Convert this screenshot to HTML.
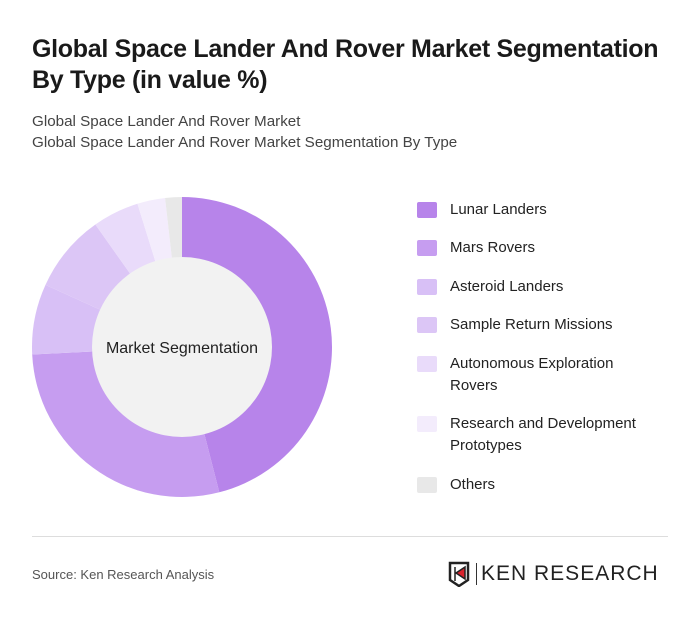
<!DOCTYPE html>
<html><head><meta charset="utf-8"><style>
body{margin:0;width:700px;height:621px;background:#fff;font-family:"Liberation Sans",sans-serif;position:relative;overflow:hidden}
.t{position:absolute;left:32px;top:34px;font-size:25px;font-weight:bold;color:#1a1a1a;line-height:31px;letter-spacing:-0.3px}
.s{position:absolute;left:32px;font-size:15.2px;color:#444}
.leg{position:absolute;left:418px;font-size:15px;color:#222;line-height:22px}
.sw{position:absolute;left:-1px;width:20px;height:16px;border-radius:2px}
.lt{position:absolute;left:32px;white-space:nowrap}
</style></head><body>
<div class="t">Global Space Lander And Rover Market Segmentation<br>By Type (in value %)</div>
<div class="s" style="top:113px">Global Space Lander And Rover Market</div>
<div class="s" style="top:134px">Global Space Lander And Rover Market Segmentation By Type</div>
<svg id="chart" width="700" height="621" style="position:absolute;left:0;top:0"></svg>
<div id="legend"></div>
<div style="position:absolute;left:32px;top:536px;width:636px;height:1px;background:#ddd"></div>
<div style="position:absolute;left:32px;top:567px;font-size:13px;color:#555">Source: Ken Research Analysis</div>
<div style="position:absolute;left:448px;top:561px;width:222px;height:26px">
<svg width="24" height="26" style="position:absolute;left:0;top:0"><path d="M2 2h18v17l-9 6-9-6z" fill="none" stroke="#222" stroke-width="2.5"/><path d="M7 6v14M8 12l9-6v12z" fill="#d9232d" stroke="#222" stroke-width="1.5"/></svg>
<div style="position:absolute;left:28px;top:2px;width:1px;height:22px;background:#333"></div>
<div style="position:absolute;left:33px;top:0;font-size:21px;color:#222;letter-spacing:1px;line-height:26px">KEN RESEARCH</div>
</div>
<script>
const categories=["Lunar Landers","Mars Rovers","Asteroid Landers","Sample Return Missions","Autonomous Exploration Rovers","Research and Development Prototypes","Others"];
const values=[46,28.2,7.6,8.4,5,3,1.8];
const colors=["#b784ea","#c69df0","#d8c0f6","#dcc6f6","#e9dbfa","#f3ecfc","#e8e8e8"];
const legendLines=[["Lunar Landers"],["Mars Rovers"],["Asteroid Landers"],["Sample Return Missions"],["Autonomous Exploration","Rovers"],["Research and Development","Prototypes"],["Others"]];
const legendTops=[199,237,276,314,353,413,474];
const svg=document.getElementById('chart');const NS="http://www.w3.org/2000/svg";
const cx=182,cy=347,R=150,r=90;
const total=values.reduce((a,b)=>a+b,0);
let acc=0;
function pt(a,rad){return [cx+rad*Math.sin(a),cy-rad*Math.cos(a)];}
values.forEach((v,i)=>{
const a0=acc/total*2*Math.PI;acc+=v;const a1=acc/total*2*Math.PI;
const [x0,y0]=pt(a0,R),[x1,y1]=pt(a1,R);const large=(a1-a0)>Math.PI?1:0;
const p=document.createElementNS(NS,'path');
p.setAttribute('d',`M${cx},${cy}L${x0},${y0}A${R},${R} 0 ${large} 1 ${x1},${y1}Z`);
p.setAttribute('fill',colors[i]);


svg.appendChild(p);});
const c=document.createElementNS(NS,'circle');c.setAttribute('cx',cx);c.setAttribute('cy',cy);c.setAttribute('r',r);c.setAttribute('fill','#f2f2f2');


svg.appendChild(c);
const t=document.createElementNS(NS,'text');t.setAttribute('x',cx);t.setAttribute('y',cy+6);t.setAttribute('text-anchor','middle');t.setAttribute('font-size','16');t.setAttribute('fill','#222');t.setAttribute('font-family','Liberation Sans, sans-serif');t.textContent='Market Segmentation';


svg.appendChild(t);
const lg=document.getElementById('legend');
categories.forEach((cat,i)=>{
const d=document.createElement('div');d.className='leg';d.style.top=legendTops[i]+'px';


const sw=document.createElement('div');sw.className='sw';sw.style.background=colors[i];sw.style.top='3px';


const lt=document.createElement('div');lt.className='lt';lt.innerHTML=legendLines[i].join('<br>');


d.appendChild(sw);d.appendChild(lt);lg.appendChild(d);});
</script>
</body></html>
